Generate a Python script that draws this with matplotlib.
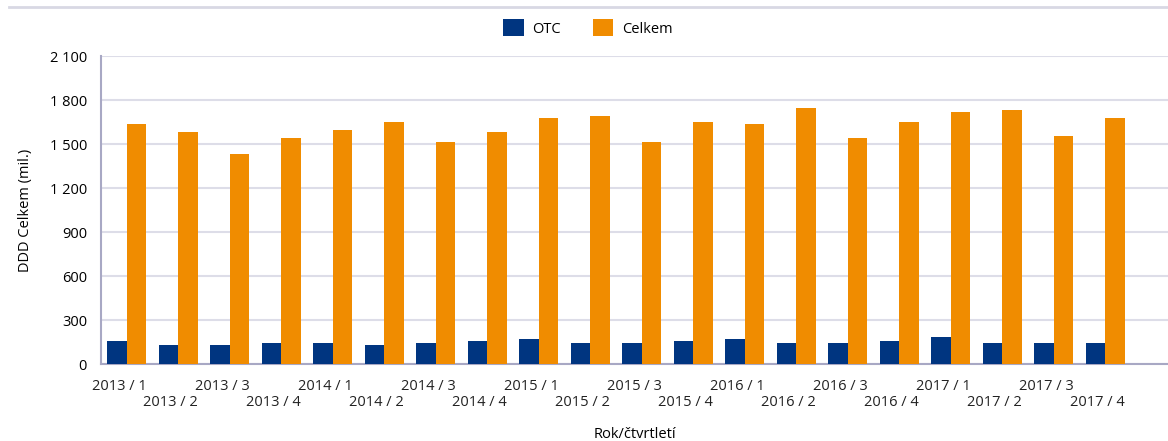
import matplotlib.pyplot as plt
import numpy as np

plt.rcParams['font.family'] = ['Open Sans', 'DejaVu Sans']

quarters = ['2013 / 1', '2013 / 2', '2013 / 3', '2013 / 4',
            '2014 / 1', '2014 / 2', '2014 / 3', '2014 / 4',
            '2015 / 1', '2015 / 2', '2015 / 3', '2015 / 4',
            '2016 / 1', '2016 / 2', '2016 / 3', '2016 / 4',
            '2017 / 1', '2017 / 2', '2017 / 3', '2017 / 4']
otc = [155, 127, 127, 141, 141, 127, 141, 155, 168, 141,
       141, 155, 168, 141, 141, 155, 182, 141, 141, 141]
celkem = [1636, 1582, 1432, 1541, 1595, 1650, 1514, 1582, 1677, 1691,
          1514, 1650, 1636, 1745, 1541, 1650, 1718, 1732, 1555, 1677]
y_ticks = [0, 300, 600, 900, 1200, 1500, 1800, 2100]

blue = '#003580'
orange = '#f08c00'

fig = plt.figure(figsize=(11.68, 4.41), dpi=100)
ax = fig.add_axes([101 / 1168, 1 - 364 / 441, 1067 / 1168, 308 / 441])

x = np.arange(len(quarters))
w = 0.38
ax.bar(x - w / 2, otc, width=w, color=blue, label='OTC', zorder=3)
ax.bar(x + w / 2, celkem, width=w, color=orange, label='Celkem', zorder=3)

ax.set_xlim(-0.5, 20.22)
ax.set_ylim(0, 2100)
ax.set_yticks(y_ticks)
ax.set_yticklabels([f'{v:,}'.replace(',', ' ') for v in y_ticks], fontsize=10.5)
ax.yaxis.grid(True, color='#dddde8', linewidth=1.5, zorder=0)
ax.tick_params(axis='y', length=0, pad=10)
ax.tick_params(axis='x', length=0)

ax.set_xticks(x)
ax.set_xticklabels([])
# labels alternate between two rows
for i, q in enumerate(quarters):
    yoff = -16.5 if i % 2 == 0 else -28
    ax.annotate(q, (i - 0.15, 0), xycoords=('data', 'data'),
                xytext=(0, yoff), textcoords='offset points',
                ha='center', va='center', fontsize=10.5, color='#222222')

for s in ['top', 'right']:
    ax.spines[s].set_visible(False)
ax.spines['left'].set_color('#a8a8c4')
ax.spines['left'].set_linewidth(1.5)
ax.spines['bottom'].set_color('#a8a8c4')
ax.spines['bottom'].set_linewidth(1.5)

ax.set_ylabel('DDD Celkem (mil.)', fontsize=10.5, labelpad=12)
fig.text(635 / 1168, 1 - 435 / 441, 'Rok/čtvrtletí', ha='center', va='center', fontsize=10.5)

# top separator line
fig.add_artist(plt.Line2D([9 / 1168, 1], [1 - 7 / 441, 1 - 7 / 441],
                          color='#d8d8e4', linewidth=2))

ax.legend(loc='center', bbox_to_anchor=(588 / 1168, 1 - 28 / 441),
          bbox_transform=fig.transFigure, ncol=2, frameon=False,
          fontsize=10.5, handlelength=1.4, handleheight=1.4,
          columnspacing=2.2, handletextpad=0.6)

fig.savefig('out.png', dpi=100)
